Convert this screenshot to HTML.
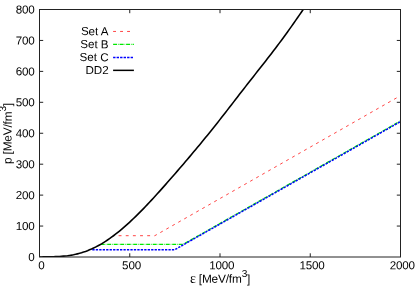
<!DOCTYPE html>
<html><head><meta charset="utf-8"><title>plot</title>
<style>
html,body{margin:0;padding:0;background:#fff;}
svg{display:block;will-change:transform;opacity:0.999}
text{font-family:"Liberation Sans",sans-serif;font-size:12px;fill:#000}
.ser{font-family:"Liberation Serif",serif;font-size:14px}
.lg{font-size:11.6px}
.tk{font-size:11.6px;letter-spacing:-0.15px}
.al{font-size:11.8px;letter-spacing:-0.15px}
</style></head><body>
<svg width="415" height="291" viewBox="0 0 415 291">
<rect width="415" height="291" fill="#fff"/>
<defs><clipPath id="c"><rect x="39.5" y="9.5" width="361.0" height="247.5"/></clipPath></defs>
<g fill="none" stroke="#222" stroke-width="1">
<path d="M129.75,257.0 v-3.7 M129.75,9.5 v3.7"/><path d="M220.00,257.0 v-3.7 M220.00,9.5 v3.7"/><path d="M310.25,257.0 v-3.7 M310.25,9.5 v3.7"/><path d="M39.5,226.06 h3.7 M400.5,226.06 h-3.7"/><path d="M39.5,195.12 h3.7 M400.5,195.12 h-3.7"/><path d="M39.5,164.19 h3.7 M400.5,164.19 h-3.7"/><path d="M39.5,133.25 h3.7 M400.5,133.25 h-3.7"/><path d="M39.5,102.31 h3.7 M400.5,102.31 h-3.7"/><path d="M39.5,71.38 h3.7 M400.5,71.38 h-3.7"/><path d="M39.5,40.44 h3.7 M400.5,40.44 h-3.7"/>
</g>
<g clip-path="url(#c)" fill="none">
<path d="M114.3,235.7 L154.8,235.7" stroke="#ff3030" stroke-width="0.9" stroke-dasharray="2.9 4.25" stroke-dashoffset="2.85"/>
<path d="M154.8,235.7 L400.5,95.65" stroke="#ff3030" stroke-width="0.9" stroke-dasharray="2.9 4.0" stroke-dashoffset="0.59"/>
<path d="M100.7,244.4 L183.06,244.4 L400.5,121.00" stroke="#00e800" stroke-width="1.3" stroke-dasharray="4 1 0.6 0.9"/>
<path d="M92.32,249.8 L174.6,249.8 L400.5,121.60" stroke="#0000ff" stroke-width="1.5" stroke-dasharray="2.3 1.16"/>
<path d="M39.5,256.99 L41.5,256.95 L43.5,256.92 L45.5,256.89 L47.5,256.85 L49.5,256.82 L51.5,256.78 L53.5,256.72 L55.5,256.66 L57.5,256.57 L59.5,256.46 L61.5,256.32 L63.5,256.16 L65.5,255.96 L67.5,255.73 L69.5,255.45 L71.5,255.13 L73.5,254.76 L75.5,254.34 L77.5,253.86 L79.5,253.34 L81.5,252.75 L83.5,252.11 L85.5,251.42 L87.5,250.67 L89.5,249.86 L91.5,249.00 L93.5,248.08 L95.5,247.10 L97.5,246.07 L99.5,244.97 L101.5,243.82 L103.5,242.61 L105.5,241.34 L107.5,240.02 L109.5,238.65 L111.5,237.22 L113.5,235.74 L115.5,234.22 L117.5,232.64 L119.5,231.02 L121.5,229.36 L123.5,227.65 L125.5,225.91 L127.5,224.12 L129.5,222.29 L131.5,220.43 L133.5,218.53 L135.5,216.60 L137.5,214.64 L139.5,212.64 L141.5,210.62 L143.5,208.57 L145.5,206.49 L147.5,204.39 L149.5,202.26 L151.5,200.12 L153.5,197.95 L155.5,195.76 L157.5,193.56 L159.5,191.34 L161.5,189.11 L163.5,186.86 L165.5,184.61 L167.5,182.34 L169.5,180.07 L171.5,177.79 L173.5,175.50 L175.5,173.20 L177.5,170.89 L179.5,168.58 L181.5,166.26 L183.5,163.92 L185.5,161.58 L187.5,159.23 L189.5,156.87 L191.5,154.49 L193.5,152.11 L195.5,149.72 L197.5,147.32 L199.5,144.90 L201.5,142.48 L203.5,140.04 L205.5,137.60 L207.5,135.14 L209.5,132.66 L211.5,130.18 L213.5,127.69 L215.5,125.18 L217.5,122.66 L219.5,120.12 L221.5,117.58 L223.5,115.02 L225.5,112.45 L227.5,109.88 L229.5,107.29 L231.5,104.71 L233.5,102.12 L235.5,99.53 L237.5,96.94 L239.5,94.35 L241.5,91.77 L243.5,89.19 L245.5,86.62 L247.5,84.06 L249.5,81.50 L251.5,78.96 L253.5,76.42 L255.5,73.88 L257.5,71.34 L259.5,68.81 L261.5,66.26 L263.5,63.72 L265.5,61.16 L267.5,58.60 L269.5,56.02 L271.5,53.43 L273.5,50.82 L275.5,48.19 L277.5,45.54 L279.5,42.87 L281.5,40.18 L283.5,37.46 L285.5,34.71 L287.5,31.95 L289.5,29.15 L291.5,26.34 L293.5,23.50 L295.5,20.64 L297.5,17.76 L299.5,14.86 L301.5,11.94 L303.5,9.01 L305.5,6.05 L307.5,3.08 L309.5,0.08" stroke="#000" stroke-width="1.6" stroke-linejoin="round"/>
</g>
<rect x="39.5" y="9.5" width="361.0" height="247.5" fill="none" stroke="#222" stroke-width="1"/>
<g><text x="41.30" y="269.3" transform="rotate(0.3 41.30 269.3)" text-anchor="middle" class="tk">0</text><text x="131.55" y="269.3" transform="rotate(0.3 131.55 269.3)" text-anchor="middle" class="tk">500</text><text x="221.80" y="269.3" transform="rotate(0.3 221.80 269.3)" text-anchor="middle" class="tk">1000</text><text x="312.05" y="269.3" transform="rotate(0.3 312.05 269.3)" text-anchor="middle" class="tk">1500</text><text x="402.30" y="269.3" transform="rotate(0.3 402.30 269.3)" text-anchor="middle" class="tk">2000</text><text x="34.6" y="261.10" transform="rotate(0.3 34.6 261.10)" text-anchor="end" class="tk">0</text><text x="34.6" y="230.16" transform="rotate(0.3 34.6 230.16)" text-anchor="end" class="tk">100</text><text x="34.6" y="199.22" transform="rotate(0.3 34.6 199.22)" text-anchor="end" class="tk">200</text><text x="34.6" y="168.29" transform="rotate(0.3 34.6 168.29)" text-anchor="end" class="tk">300</text><text x="34.6" y="137.35" transform="rotate(0.3 34.6 137.35)" text-anchor="end" class="tk">400</text><text x="34.6" y="106.41" transform="rotate(0.3 34.6 106.41)" text-anchor="end" class="tk">500</text><text x="34.6" y="75.47" transform="rotate(0.3 34.6 75.47)" text-anchor="end" class="tk">600</text><text x="34.6" y="44.54" transform="rotate(0.3 34.6 44.54)" text-anchor="end" class="tk">700</text><text x="34.6" y="13.60" transform="rotate(0.3 34.6 13.60)" text-anchor="end" class="tk">800</text><text x="108.6" y="35.25" transform="rotate(0.3 108.6 35.25)" text-anchor="end" class="lg">Set A</text><text x="108.6" y="48.22" transform="rotate(0.3 108.6 48.22)" text-anchor="end" class="lg">Set B</text><text x="108.6" y="61.19" transform="rotate(0.3 108.6 61.19)" text-anchor="end" class="lg">Set C</text><text x="108.6" y="74.16" transform="rotate(0.3 108.6 74.16)" text-anchor="end" class="lg">DD2</text></g>
<g fill="none">
<path d="M113.1,31.45 h20.8" stroke="#ff3030" stroke-width="0.9" stroke-dasharray="2.9 4.1"/>
<path d="M113.1,44.45 h20.8" stroke="#00e800" stroke-width="1.3" stroke-dasharray="4 1 0.6 0.9"/>
<path d="M113.1,57.4 h20.8" stroke="#0000ff" stroke-width="1.5" stroke-dasharray="2.4 1.1"/>
<path d="M113.1,70.35 h20.8" stroke="#000" stroke-width="1.5"/>
</g>
<text class="al" x="220.1" y="282.8" transform="rotate(0.3 220.1 282.8)" text-anchor="middle"><tspan class="ser">ε</tspan> [MeV/fm<tspan dy="-5.8" font-size="10.1">3</tspan><tspan dy="5.8">]</tspan></text>
<text class="al" transform="translate(11.6,133.5) rotate(-89.7)" text-anchor="middle">p [MeV/fm<tspan dy="-5.8" font-size="10.1">3</tspan><tspan dy="5.8">]</tspan></text>
</svg>
</body></html>
